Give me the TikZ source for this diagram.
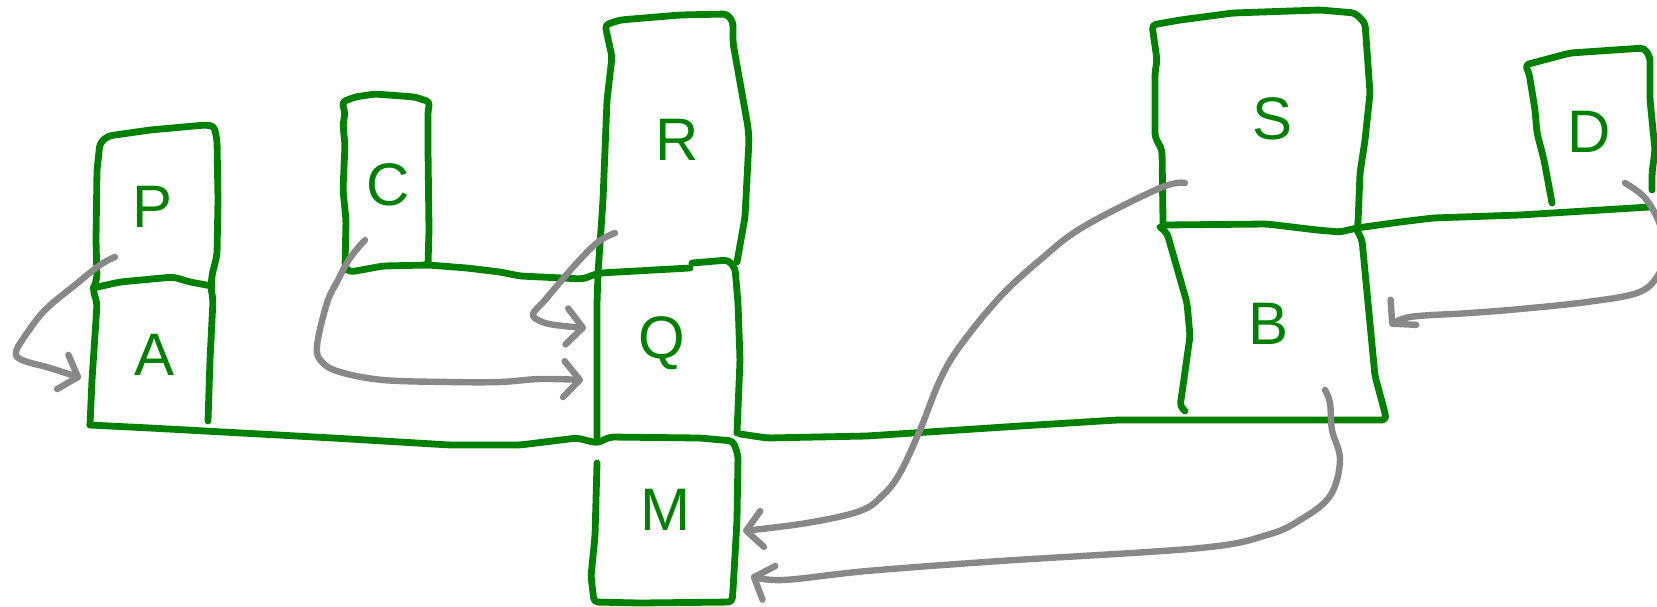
\documentclass[tikz,border=0pt]{standalone}
\usepackage{fontspec}
\setmainfont{Liberation Sans}
\usetikzlibrary{arrows.meta}
\definecolor{ink}{RGB}{0,128,0}
\definecolor{pen}{RGB}{136,136,136}
\tikzset{
  box/.style={draw=ink, line width=3.4pt, line cap=round, line join=round, rounded corners=2pt},
  lbl/.style={text=ink, font=\fontsize{30}{30}\selectfont, inner sep=0pt},
  link/.style={draw=pen, line width=3.2pt, line cap=round, line join=round,
    -{Straight Barb[length=8pt,width=18pt,round]}},
}
\begin{document}
\begin{tikzpicture}[x=0.5pt,y=-0.5pt]
\clip (0,0) rectangle (1657,606);
% P / A column
\draw[box] (90,425) -- (92,380) -- (96,320) -- (97,303) -- (93,290) -- (97,278) -- (96,240) -- (97,170) -- (100,143) -- (108,136) -- (150,130) -- (205,125) -- (214,126) -- (217,140) -- (218,200) -- (217,255) -- (212,275) -- (211,288) -- (213,300) -- (210,360) -- (208,421);
\draw[box] (93,288) -- (120,282) -- (173,277) -- (190,282) -- (212,286);
% long bottom line and M
\draw[box] (90,425) -- (150,428) -- (333,438) -- (450,445) -- (520,445) -- (577,438) -- (597,443) -- (610,437) -- (700,438) -- (733,441) -- (738,455) -- (737,520) -- (733,590) -- (732,602) -- (640,603) -- (594,602) -- (591,576) -- (595,536) -- (597,463);
% C and line to Q
\draw[box] (428,265) -- (429,230) -- (428,150) -- (428,110) -- (430,102) -- (415,97) -- (375,94) -- (355,97) -- (342,102) -- (345,113) -- (343,125) -- (345,145) -- (343,190) -- (346,220) -- (345,268) -- (350,272) -- (383,266) -- (428,265) -- (467,268) -- (500,272) -- (520,276) -- (583,279) -- (593,275) -- (600,273) -- (690,268);
\draw[box] (692,263) -- (728,260) -- (735,268) -- (738,303) -- (740,360) -- (737,433);
% R and Q left side
\draw[box] (597,440) -- (597,303) -- (598,273) -- (603,200) -- (607,100) -- (612,57) -- (605,25) -- (620,20) -- (680,15) -- (727,14) -- (733,22) -- (733,43) -- (748,127) -- (749,140) -- (745,217) -- (737,262);
% line right of Q to B
\draw[box] (740,434) -- (767,438) -- (867,436) -- (1020,426) -- (1117,420) -- (1233,420) -- (1386,420) -- (1385,413) -- (1375,376) -- (1368,303) -- (1362,240) -- (1357,230);
% S
\draw[box] (1163,227) -- (1163,222) -- (1162,150) -- (1155,137) -- (1155,73) -- (1157,60) -- (1152,25) -- (1180,20) -- (1233,13) -- (1320,10) -- (1355,13) -- (1365,23) -- (1370,93) -- (1365,140) -- (1360,173) -- (1358,223) -- (1357,230);
\draw[box] (1163,225) -- (1267,224) -- (1317,230) -- (1340,232) -- (1357,228) -- (1400,222) -- (1433,218) -- (1520,215) -- (1650,207);
% B left
\draw[box] (1160,227) -- (1167,233) -- (1187,303) -- (1190,336) -- (1182,393) -- (1180,406) -- (1185,411);
% D
\draw[box] (1552,203) -- (1544,160) -- (1537,133) -- (1535,110) -- (1529,73) -- (1525,65) -- (1570,53) -- (1644,48) -- (1650,57) -- (1650,100) -- (1655,150) -- (1652,173) -- (1652,190);
% labels
\node[lbl] (P) at (153,207) {P};
\node[lbl] (A) at (155,355) {A};
\node[lbl] (C) at (388,185) {C};
\node[lbl] (R) at (677,140) {R};
\node[lbl] (Q) at (662,343) {Q};
\node[lbl] (M) at (665,510) {M};
\node[lbl] (S) at (1272,119) {S};
\node[lbl] (B) at (1268,324) {B};
\node[lbl] (D) at (1589,132) {D};
% connector end points
\coordinate (pa-s) at (115,257);
\coordinate (pa-e) at (81,378);
\coordinate (cq-s) at (365,240);
\coordinate (cq-e) at (583,380);
\coordinate (rq-s) at (615,233);
\coordinate (rq-e) at (586,328);
\coordinate (sm-s) at (1185,183);
\coordinate (sm-e) at (743,531);
\coordinate (db-s) at (1625,183);
\coordinate (db-e) at (1390,326);
\coordinate (bm-s) at (1325,390);
\coordinate (bm-e) at (751,576);
% connectors
\draw[link] plot[smooth, tension=0.6] coordinates {(pa-s) (100,265) (75,285) (45,310) (25,336) (16,352) (22,360) (50,368) (pa-e)};
\draw[link] plot[smooth, tension=0.6] coordinates {(cq-s) (350,258) (338,280) (327,303) (317,346) (322,362) (340,372) (383,380) (450,382) (500,382) (540,379) (cq-e)};
\draw[link] plot[smooth, tension=0.6] coordinates {(rq-s) (598,242) (575,265) (545,300) (533,314) (540,321) (555,325) (rq-e)};
\draw[link] plot[smooth, tension=0.6] coordinates {(sm-s) (1160,188) (1083,227) (1040,260) (1000,297) (960,346) (940,380) (920,430) (900,473) (883,495) (860,511) (807,523) (sm-e)};
\draw[link] plot[smooth, tension=0.6] coordinates {(db-s) (1645,198) (1660,225) (1664,255) (1657,277) (1637,293) (1587,302) (1520,309) (1470,313) (1410,317) (db-e)};
\draw[link] plot[smooth, tension=0.6] coordinates {(bm-s) (1330,403) (1332,430) (1340,460) (1330,496) (1300,520) (1267,535) (1200,548) (1000,561) (867,571) (783,580) (bm-e)};
\end{tikzpicture}
\end{document}
